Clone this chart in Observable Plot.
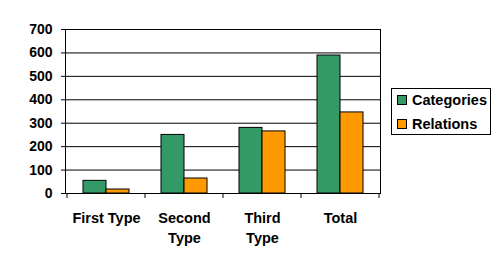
<!DOCTYPE html>
<html>
<head>
<meta charset="utf-8">
<script src="https://cdn.jsdelivr.net/npm/d3@7"></script>
<script src="https://cdn.jsdelivr.net/npm/@observablehq/plot@0.6"></script>
<style>
  html, body { margin: 0; padding: 0; background: #fff; }
  #wrap { position: relative; width: 501px; height: 266px; font-family: "Liberation Sans", Arial, sans-serif; }
  #legend { position: absolute; left: 391px; top: 88px; width: 98px; height: 45px; border: 1px solid #000; background: #fff;
            font-weight: bold; font-size: 14.5px; }
  .row { position: absolute; left: 5px; display: flex; align-items: center; }
  .sw { width: 8px; height: 8px; border: 1px solid #000; margin-right: 5px; }
</style>
</head>
<body>
<div id="wrap"></div>
<script>
const categories = ["First Type", "Second Type", "Third Type", "Total"];
const tickLabels = ["First Type", "Second\nType", "Third\nType", "Total"];
const seriesNames = ["Categories", "Relations"];
const categoriesValues = [54, 250, 280, 589];
const relationsValues = [17, 64, 265, 346];
const yTicks = [0, 100, 200, 300, 400, 500, 600, 700];
const colors = ["#339966", "#FF9900"];

const data = [];
categories.forEach((c, i) => {
  data.push({cat: c, series: seriesNames[0], value: categoriesValues[i]});
  data.push({cat: c, series: seriesNames[1], value: relationsValues[i]});
});

// category boundary ticks below the axis, placed via the x scale
function boundaryTicks(index, scales, values, dimensions) {
  const x = scales.x;
  const step = x.step(), bw = x.bandwidth();
  const y0 = dimensions.height - dimensions.marginBottom;
  const g = d3.create("svg:g");
  const xs = new Set();
  for (const d of x.domain()) {
    xs.add(x(d) - (step - bw) / 2);
    xs.add(x(d) + bw + (step - bw) / 2);
  }
  for (const xv of xs) {
    g.append("line").attr("x1", xv).attr("x2", xv).attr("y1", y0).attr("y2", y0 + 5)
      .attr("stroke", "#000");
  }
  return g.node();
}

const chart = Plot.plot({
  width: 501,
  height: 266,
  marginLeft: 65,
  marginRight: 121,
  marginTop: 29,
  marginBottom: 73,
  style: {fontFamily: "Liberation Sans, Arial, sans-serif", fontWeight: "bold", color: "#000", background: "#fff"},
  x: {domain: categories, paddingInner: 0.416, paddingOuter: 0.208, label: null},
  y: {domain: [0, 700], ticks: yTicks, label: null},
  marks: [
    Plot.gridY(yTicks, {stroke: "#000", strokeOpacity: 1}),
    Plot.barY(data.filter(d => d.series === seriesNames[0]), {x: "cat", y: "value", fill: colors[0], stroke: "#000", insetRight: 23}),
    Plot.barY(data.filter(d => d.series === seriesNames[1]), {x: "cat", y: "value", fill: colors[1], stroke: "#000", insetLeft: 23}),
    Plot.frame({stroke: "#000"}),
    Plot.axisY(yTicks, {tickSize: 4, tickPadding: 9, fontSize: 14, fontWeight: "bold", label: null, stroke: "#000"}),
    Plot.axisX({tickSize: 0, tickPadding: 16, fontSize: 14.5, fontWeight: "bold", lineHeight: 1.35, label: null,
                tickFormat: d => tickLabels[categories.indexOf(d)]}),
    boundaryTicks
  ]
});

const wrap = document.getElementById("wrap");
wrap.appendChild(chart);
const legend = document.createElement("div");
legend.id = "legend";
seriesNames.forEach((s, i) => {
  const row = document.createElement("div");
  row.className = "row";
  row.style.top = (i === 0 ? 3 : 27) + "px";
  const sw = document.createElement("div");
  sw.className = "sw";
  sw.style.background = colors[i];
  row.appendChild(sw);
  const t = document.createElement("span");
  t.textContent = s;
  row.appendChild(t);
  legend.appendChild(row);
});
wrap.appendChild(legend);
</script>
</body>
</html>
